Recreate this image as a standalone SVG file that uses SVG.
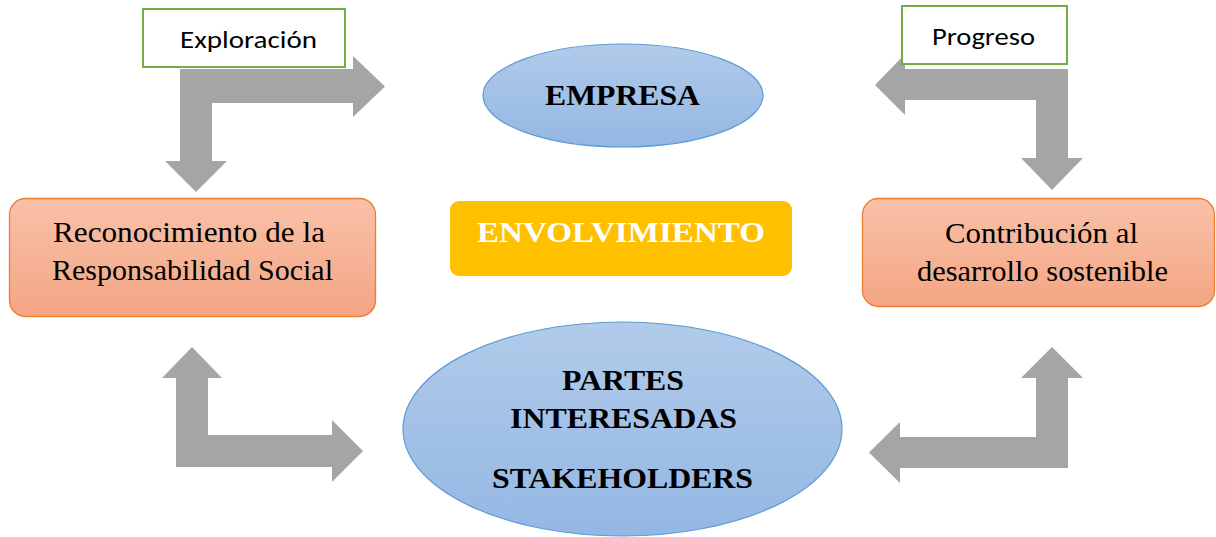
<svg xmlns="http://www.w3.org/2000/svg" width="1216" height="537" viewBox="0 0 1216 537">
<defs>
<linearGradient id="gBlue" x1="0" y1="0" x2="0" y2="1"><stop offset="0" stop-color="#B1CBEA"/><stop offset="1" stop-color="#94B7E3"/></linearGradient>
<linearGradient id="gOrange" x1="0" y1="0" x2="0" y2="1"><stop offset="0" stop-color="#F8C1A8"/><stop offset="1" stop-color="#F4A584"/></linearGradient>
</defs>
<style>
.arrow{fill:#A5A5A5;stroke:none}
.ell{fill:url(#gBlue);stroke:#5B9BD5;stroke-width:1.2}
.obox{fill:url(#gOrange);stroke:#ED7D31;stroke-width:1.3}
.gbox{fill:#FFFFFF;stroke:#70AD47;stroke-width:2}
.sans{font-family:Calibri,"Liberation Sans",Arial,sans-serif;font-size:24.5px;fill:#000}
.ser{font-family:"Liberation Serif","Times New Roman",serif;font-size:29px;fill:#000}
.serb{font-family:"Liberation Serif","Times New Roman",serif;font-size:30px;font-weight:bold;fill:#000}
.wht{fill:#FFFFFF}
</style>
<rect width="1216" height="537" fill="#FFFFFF"/>
<g id="connectors">
<polygon class="arrow" points="180,69 353,69 353,56 385,86.5 353,117 353,103 212,103 212,161 227,161 196,192 165,161 180,161"/>
<polygon class="arrow" points="1068,69 905,69 905,54 875,85 905,115 905,100 1036,100 1036,158 1021,158 1052,190 1083,158 1068,158"/>
<polygon class="arrow" points="192,347 222,378 208,378 208,435 332,435 332,420 363,451 332,482 332,467 176,467 176,378 162,378"/>
<polygon class="arrow" points="1052,347 1083,378 1068,378 1068,468 900,468 900,483 869,452.5 900,422 900,437 1036,437 1036,378 1021,378"/>
</g>
<g id="exploracion">
<rect class="gbox" x="143" y="9" width="202" height="58"/>
<text class="sans" x="248.5" y="48" text-anchor="middle" textLength="137" lengthAdjust="spacingAndGlyphs">Exploración</text>
</g>
<g id="progreso">
<rect class="gbox" x="902" y="6" width="165" height="58"/>
<text class="sans" x="983.5" y="45" text-anchor="middle" textLength="103" lengthAdjust="spacingAndGlyphs">Progreso</text>
</g>
<g id="empresa">
<ellipse class="ell" cx="623" cy="95.5" rx="140" ry="51.5"/>
<text class="serb" x="622.5" y="105" text-anchor="middle" textLength="155" lengthAdjust="spacingAndGlyphs">EMPRESA</text>
</g>
<g id="envolvimiento">
<rect x="450" y="201" width="342" height="75" rx="9" fill="#FFC000"/>
<text class="serb wht" x="621" y="242" text-anchor="middle" textLength="288" lengthAdjust="spacingAndGlyphs">ENVOLVIMIENTO</text>
</g>
<g id="reconocimiento">
<rect class="obox" x="9.5" y="198.5" width="366" height="118" rx="16"/>
<text class="ser" x="189" y="242" text-anchor="middle" textLength="272" lengthAdjust="spacingAndGlyphs">Reconocimiento de la</text>
<text class="ser" x="192.5" y="280" text-anchor="middle" textLength="281" lengthAdjust="spacingAndGlyphs">Responsabilidad Social</text>
</g>
<g id="contribucion">
<rect class="obox" x="862.5" y="198.5" width="352" height="108" rx="16"/>
<text class="ser" x="1041.5" y="243" text-anchor="middle" textLength="193" lengthAdjust="spacingAndGlyphs">Contribución al</text>
<text class="ser" x="1042.5" y="281" text-anchor="middle" textLength="251" lengthAdjust="spacingAndGlyphs">desarrollo sostenible</text>
</g>
<g id="partes">
<ellipse class="ell" cx="622.5" cy="429" rx="219.5" ry="107"/>
<text class="serb" x="623" y="390" text-anchor="middle" textLength="122" lengthAdjust="spacingAndGlyphs">PARTES</text>
<text class="serb" x="623.5" y="428" text-anchor="middle" textLength="227" lengthAdjust="spacingAndGlyphs">INTERESADAS</text>
<text class="serb" x="622.5" y="488" text-anchor="middle" textLength="261" lengthAdjust="spacingAndGlyphs">STAKEHOLDERS</text>
</g>
</svg>
